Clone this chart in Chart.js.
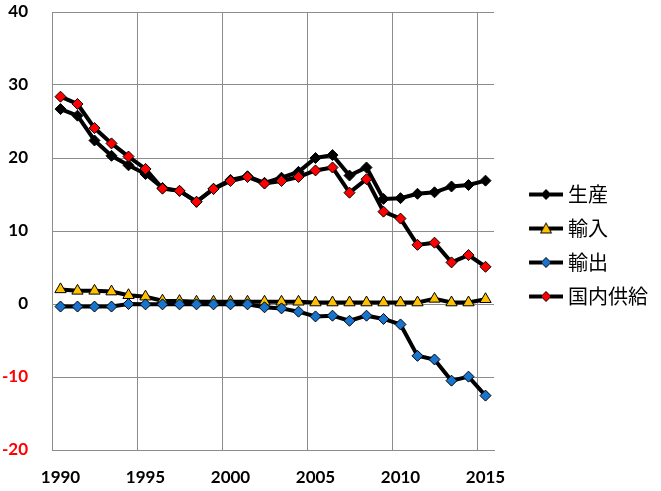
<!DOCTYPE html>
<html>
<head>
<meta charset="utf-8">
<script src="https://cdn.jsdelivr.net/npm/chart.js@4.4.1/dist/chart.umd.min.js"></script>
<style>
  html, body { margin: 0; padding: 0; background: #fff; overflow: hidden; }
  canvas { display: block; }
</style>
</head>
<body>
<canvas id="grafico" width="661" height="491"></canvas>
<script>
const anos = ['1990','1991','1992','1993','1994','1995','1996','1997','1998','1999','2000','2001','2002',
              '2003','2004','2005','2006','2007','2008','2009','2010','2011','2012','2013','2014','2015'];

const nomes = ['生産', '輸入', '輸出', '国内供給'];

const seisan   = [26.7, 25.8, 22.4, 20.3, 19.0, 17.8, 15.9, 15.5, 14.0, 15.8, 17.0, 17.5, 16.6,
                  17.3, 18.1, 20.0, 20.4, 17.6, 18.7, 14.4, 14.5, 15.1, 15.3, 16.1, 16.3, 16.9];
const yunyu    = [2.0, 1.8, 1.8, 1.7, 1.2, 1.0, 0.45, 0.4, 0.3, 0.3, 0.3, 0.3, 0.3,
                  0.3, 0.3, 0.2, 0.2, 0.2, 0.2, 0.2, 0.2, 0.2, 0.7, 0.2, 0.2, 0.65];
const yushutsu = [-0.35, -0.35, -0.35, -0.35, 0, -0.05, -0.05, -0.05, -0.05, -0.05, -0.05, -0.05, -0.45,
                  -0.6, -1.05, -1.7, -1.6, -2.3, -1.6, -2.05, -2.8, -7.1, -7.6, -10.5, -9.95, -12.55];
const kyokyu   = [28.4, 27.4, 24.1, 22.0, 20.2, 18.5, 15.8, 15.5, 14.0, 15.75, 16.85, 17.4, 16.5,
                  16.85, 17.4, 18.3, 18.7, 15.25, 17.1, 12.65, 11.7, 8.1, 8.4, 5.7, 6.7, 5.1];

const cinza = '#8c8c8c';

// amostra da legenda: linha preta com o marcador, com margem transparente à esquerda
function amostra(estilo, cor) {
  const c = document.createElement('canvas');
  c.width = 60; c.height = 14;
  const g = c.getContext('2d');
  g.strokeStyle = '#000'; g.lineWidth = 4;
  g.beginPath(); g.moveTo(26, 7); g.lineTo(60, 7); g.stroke();
  g.fillStyle = cor; g.strokeStyle = '#000'; g.lineWidth = 1;
  g.beginPath();
  if (estilo === 'triangle') {
    g.moveTo(43, 1.5); g.lineTo(48.5, 11.5); g.lineTo(37.5, 11.5);
  } else {
    g.moveTo(43, 2); g.lineTo(48, 7); g.lineTo(43, 12); g.lineTo(38, 7);
  }
  g.closePath(); g.fill(); g.stroke();
  return c;
}

function serie(label, data, cor, estilo, raio, ordem) {
  return {
    label: label,
    data: data,
    borderColor: '#000',
    borderWidth: 4,
    backgroundColor: cor,
    pointStyle: estilo,
    pointRadius: raio,
    pointHoverRadius: raio,
    pointBackgroundColor: cor,
    pointBorderColor: '#000',
    pointBorderWidth: 1,
    tension: 0,
    order: ordem,
    amostra: amostra(estilo, cor)
  };
}

new Chart(document.getElementById('grafico'), {
  type: 'line',
  data: {
    labels: anos,
    datasets: [
      serie(nomes[0], seisan,   '#000000', 'rectRot', 5.5, 4),
      serie(nomes[1], yunyu,    '#FFC000', 'triangle', 6.5, 3),
      serie(nomes[2], yushutsu, '#1874CD', 'rectRot', 5.5, 2),
      serie(nomes[3], kyokyu,   '#FF0000', 'rectRot', 5.5, 1)
    ]
  },
  options: {
    responsive: false,
    animation: false,
    layout: { padding: { top: 0, right: 3, bottom: 0, left: 0 } },
    plugins: {
      tooltip: { enabled: false },
      legend: {
        position: 'right',
        align: 'center',
        maxWidth: 300,
        labels: {
          usePointStyle: true,
          pointStyleWidth: 50,
          padding: 14,
          color: '#000',
          font: { family: 'Noto Sans CJK JP', size: 20 },
          generateLabels: (chart) => chart.data.datasets.map((ds, i) => ({
            text: ds.label,
            pointStyle: ds.amostra,
            fillStyle: ds.backgroundColor,
            strokeStyle: '#000',
            lineWidth: 0,
            datasetIndex: i
          }))
        }
      }
    },
    scales: {
      x: {
        type: 'category',
        offset: true,
        grid: {
          offset: true,
          drawTicks: false,
          color: (ctx) => (ctx.index !== undefined && ctx.index % 5 === 0) ? cinza : 'rgba(0,0,0,0)'
        },
        border: { color: cinza },
        ticks: {
          autoSkip: false,
          maxRotation: 0,
          padding: 17,
          color: '#000',
          font: { family: 'Lato', size: 17, weight: 'bold' },
          callback: (v, i) => i % 5 === 0 ? anos[i] : ''
        },
        afterFit: (s) => { s.height = 41; }
      },
      y: {
        min: -20,
        max: 40,
        grid: { color: cinza, drawTicks: true, tickLength: 24, tickColor: 'rgba(0,0,0,0)' },
        border: { color: cinza },
        ticks: {
          stepSize: 10,
          padding: 0,
          font: { family: 'Lato', size: 17, weight: 'bold', lineHeight: '24px' },
          color: (ctx) => ctx.tick.value < 0 ? '#FF0000' : '#000'
        },
        afterFit: (s) => { s.width = 52; }
      }
    }
  }
});
</script>
</body>
</html>
